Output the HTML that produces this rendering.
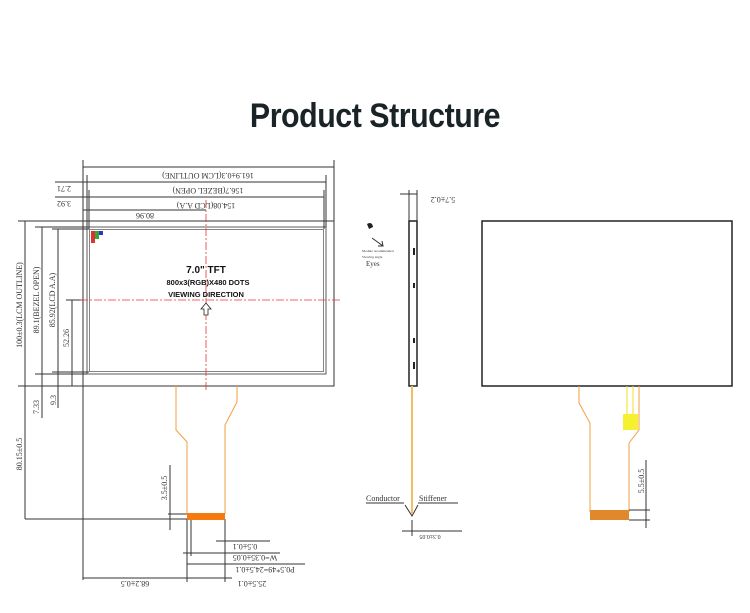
<!DOCTYPE html>
<html><head><meta charset="utf-8"><style>
body{margin:0;background:#fff;width:750px;height:613px;overflow:hidden}
svg{display:block}
text{font-family:"Liberation Serif",serif;fill:#333}
text.sb{font-family:"Liberation Sans",sans-serif;font-weight:bold;fill:#111}
</style></head><body>
<svg width="750" height="613" viewBox="0 0 750 613" xmlns="http://www.w3.org/2000/svg">
<text class="sb" x="0" y="0" text-anchor="middle" transform="translate(375,127) scale(0.92,1.05)" style="font-size:33px;fill:#1a2326;letter-spacing:-0.5px">Product Structure</text>
<g stroke="#333" stroke-width="1" fill="none">
<rect x="83" y="221" width="251" height="165"/>
<rect x="87" y="227" width="239" height="147" stroke-width="0.8"/>
<rect x="89.5" y="229.5" width="234" height="142" stroke-width="0.6"/>
<line x1="83" y1="167" x2="334" y2="167"/>
<line x1="83" y1="160" x2="83" y2="221"/><line x1="334" y1="160" x2="334" y2="221"/>
<line x1="87" y1="182" x2="326" y2="182"/><line x1="87" y1="175" x2="87" y2="227"/><line x1="326" y1="175" x2="326" y2="227"/>
<line x1="89" y1="197" x2="324" y2="197"/><line x1="89" y1="190" x2="89" y2="229"/><line x1="324" y1="190" x2="324" y2="229"/>
<line x1="83" y1="210" x2="206" y2="210"/>
<line x1="55" y1="182" x2="87" y2="182"/><line x1="55" y1="197" x2="89" y2="197"/>
<line x1="18" y1="221" x2="83" y2="221"/><line x1="35" y1="227" x2="87" y2="227"/><line x1="52" y1="229" x2="89" y2="229"/>
<line x1="18" y1="386" x2="334" y2="386"/><line x1="35" y1="374" x2="87" y2="374"/><line x1="52" y1="372" x2="89" y2="372"/>
<line x1="66" y1="300" x2="83" y2="300"/>
<line x1="25" y1="221" x2="25" y2="519"/>
<line x1="42" y1="227" x2="42" y2="418"/>
<line x1="58" y1="229" x2="58" y2="408"/>
<line x1="72" y1="300" x2="72" y2="386"/>
<line x1="25" y1="519" x2="187" y2="519"/>
<line x1="83" y1="386" x2="83" y2="580"/>
<line x1="187" y1="519" x2="187" y2="582"/>
<line x1="225" y1="519" x2="225" y2="582"/>
<line x1="191" y1="519" x2="191" y2="556"/>
<line x1="83" y1="578" x2="187" y2="578"/>
<line x1="187" y1="578" x2="232" y2="578"/>
<line x1="187" y1="564" x2="305" y2="564"/>
<line x1="183" y1="553" x2="280" y2="553"/>
<line x1="216" y1="541" x2="270" y2="541"/>
<line x1="168" y1="514" x2="187" y2="514"/>
<line x1="170" y1="510" x2="170" y2="530"/>
<line x1="170" y1="465" x2="170" y2="510"/>
</g>
<g stroke="#e33" stroke-width="0.8" stroke-dasharray="8,2,2,2">
<line x1="206" y1="200" x2="206" y2="392"/>
<line x1="80" y1="300" x2="340" y2="300"/>
</g>
<rect x="91" y="231" width="4" height="4" fill="#d33"/><rect x="95" y="231" width="4" height="4" fill="#3a3"/><rect x="99" y="231" width="4" height="4" fill="#33c"/>
<rect x="91" y="235" width="4" height="4" fill="#d33"/><rect x="95" y="235" width="4" height="4" fill="#3a3"/><rect x="91" y="239" width="4" height="4" fill="#d33"/>
<text class="sb" x="206" y="273" font-size="10" text-anchor="middle">7.0"  TFT</text>
<text class="sb" x="208" y="285" font-size="7.5" text-anchor="middle">800x3(RGB)X480  DOTS</text>
<text class="sb" x="206" y="297" font-size="7.5" text-anchor="middle">VIEWING  DIRECTION</text>
<path d="M206 303 L201 309 L204 309 L204 315 L208 315 L208 309 L211 309 Z" fill="#fff" stroke="#222" stroke-width="0.8"/>
<g font-size="8">
<text transform="translate(208,173) rotate(180)" text-anchor="middle">161.9±0.3(LCM OUTLINE)</text>
<text transform="translate(208,188) rotate(180)" text-anchor="middle">156.7(BEZEL OPEN)</text>
<text transform="translate(206,203) rotate(180)" text-anchor="middle">154.08(LCD A.A)</text>
<text transform="translate(145,213) rotate(180)" text-anchor="middle">80.96</text>
<text transform="translate(64,186) rotate(180)" text-anchor="middle">2.71</text>
<text transform="translate(64,201) rotate(180)" text-anchor="middle">3.92</text>
<text transform="translate(135,581) rotate(180)" text-anchor="middle">68.2±0.5</text>
<text transform="translate(252,581) rotate(180)" text-anchor="middle">25.5±0.1</text>
<text transform="translate(265,567) rotate(180)" text-anchor="middle">P0.5*49=24.5±0.1</text>
<text transform="translate(255,555) rotate(180)" text-anchor="middle">W=0.35±0.05</text>
<text transform="translate(245,544) rotate(180)" text-anchor="middle">0.5±0.1</text>
<text transform="translate(443,197) rotate(180)" text-anchor="middle">5.7±0.2</text>
<text transform="translate(22,305) rotate(-90)" text-anchor="middle">100±0.3(LCM OUTLINE)</text>
<text transform="translate(39,300) rotate(-90)" text-anchor="middle">89.1(BEZEL OPEN)</text>
<text transform="translate(55,300) rotate(-90)" text-anchor="middle">85.92(LCD A.A)</text>
<text transform="translate(69,338) rotate(-90)" text-anchor="middle">52.26</text>
<text transform="translate(39,407) rotate(-90)" text-anchor="middle">7.33</text>
<text transform="translate(56,400) rotate(-90)" text-anchor="middle">9.3</text>
<text transform="translate(22,454) rotate(-90)" text-anchor="middle">80.15±0.5</text>
<text transform="translate(167,488) rotate(-90)" text-anchor="middle">3.5±0.5</text>
<text transform="translate(644,481) rotate(-90)" text-anchor="middle">5.5±0.5</text>
<text transform="translate(430,535) rotate(180)" text-anchor="middle" font-size="6">0.3±0.05</text>
</g>
<path d="M176 386 L176 430 L187 442 L187 514 M237 386 L237 402 L225 425 L225 514" fill="none" stroke="#f0a040" stroke-width="1"/>
<rect x="187" y="513" width="38" height="7" fill="#f57a10"/>
<rect x="409" y="221" width="8" height="165" fill="#fff" stroke="#222" stroke-width="1.5"/>
<rect x="413" y="248" width="2" height="7" fill="#222"/><rect x="413" y="283" width="2" height="5" fill="#222"/><rect x="413" y="338" width="2" height="5" fill="#222"/><rect x="413" y="362" width="2" height="7" fill="#222"/>
<g stroke="#333" stroke-width="1" fill="none">
<line x1="400" y1="194" x2="417" y2="194"/><line x1="409" y1="190" x2="409" y2="221"/><line x1="417" y1="190" x2="417" y2="221"/>
<line x1="412" y1="520" x2="412" y2="536"/><line x1="402" y1="531" x2="462" y2="531"/>
<path d="M405 505 L412 516 L418 505"/>
<line x1="366" y1="503" x2="404" y2="503"/><line x1="418" y1="503" x2="458" y2="503"/>
<path d="M372 238 L383 246 M378 246 L383 246 L382 241"/>
</g>
<line x1="412" y1="386" x2="412" y2="514" stroke="#f0c060" stroke-width="2"/>
<path d="M367 224 q5 -3 6 3 l-4 2 z" fill="#222"/>
<text x="362" y="252" font-size="3.5" fill="#666">Module recommended</text>
<text x="362" y="258" font-size="3.5" fill="#666">Viewing angle</text>
<text x="366" y="266" font-size="7" fill="#555">Eyes</text>
<text x="366" y="501" font-size="8" fill="#222">Conductor</text>
<text x="419" y="501" font-size="8" fill="#222">Stiffener</text>
<rect x="482" y="221" width="250" height="165" fill="#fff" stroke="#222" stroke-width="1.5"/>
<path d="M579 386 L579 403 L590 423 L590 512 M639 386 L639 430 L629 443 L629 512" fill="none" stroke="#f0a040" stroke-width="1"/>
<line x1="627" y1="386" x2="627" y2="416" stroke="#f0e020" stroke-width="1"/>
<line x1="633" y1="386" x2="633" y2="416" stroke="#f0e020" stroke-width="1"/>
<rect x="623" y="414" width="15" height="16" fill="#f5f030"/>
<rect x="590" y="510" width="39" height="10" fill="#e0882a"/>
<g stroke="#333" stroke-width="1">
<line x1="646" y1="460" x2="646" y2="528"/><line x1="629" y1="510" x2="650" y2="510"/><line x1="629" y1="520" x2="650" y2="520"/>
</g>
</svg>
</body></html>
